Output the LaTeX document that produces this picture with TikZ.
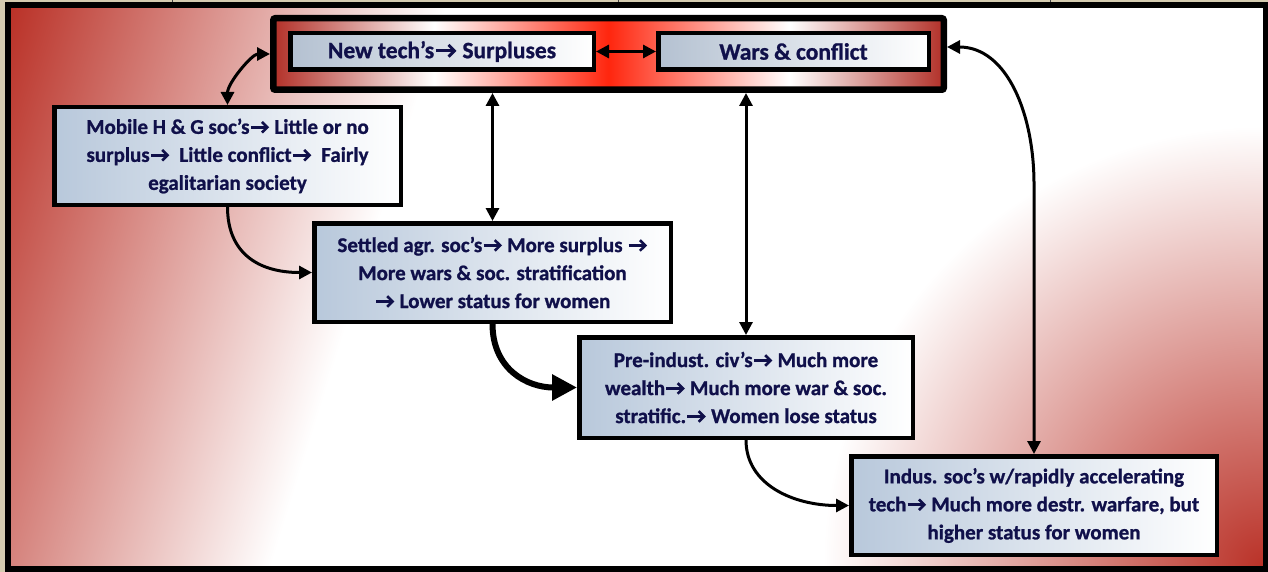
\documentclass[tikz,border=0pt]{standalone}
\usepackage{fontspec}
\setmainfont{Carlito}[BoldFeatures={FakeBold=1}]
\usetikzlibrary{arrows.meta,calc}

\definecolor{frameBeige}{RGB}{212,203,176}
\definecolor{bgRed}{RGB}{186,50,40}
\definecolor{bnEdge}{RGB}{178,48,40}
\definecolor{bnMid}{RGB}{255,38,14}
\definecolor{boxL}{RGB}{184,200,219}
\definecolor{techL}{RGB}{180,193,209}
\definecolor{ink}{RGB}{16,16,74}

% background: red from the left, fading to white
\pgfdeclarehorizontalshading{bgleft}{100bp}{color(0bp)=(bgRed); color(25.7bp)=(bgRed); color(40.5bp)=(white); color(100bp)=(white)}
% title band: dark red edges, white, bright red centre
\pgfdeclarehorizontalshading{bannershade}{100bp}{color(0bp)=(bnEdge); color(25bp)=(bnEdge); color(37bp)=(white); color(50bp)=(bnMid); color(63.5bp)=(white); color(75bp)=(bnEdge); color(100bp)=(bnEdge)}

% bold chevron arrows used inside the texts
\newsavebox\arsmall
\newsavebox\arbig
\newcommand\ra{\usebox\arsmall}
\newcommand\rabig{\usebox\arbig}
% #1 baseline drop, #2 line width, #3 shaft end, #4 head back x, #5 head half height, #6 tip x, #7 box width
\newcommand\makechevron[7]{%
  \begin{pgfpicture}
    \pgfsetbaseline{#1}%
    \pgfsetstrokecolor{ink}%
    \pgfsetlinewidth{#2}%
    \pgfsetbuttcap
    \pgfpathmoveto{\pgfqpoint{0.5pt}{0pt}}\pgfpathlineto{\pgfqpoint{#3}{0pt}}%
    \pgfusepath{stroke}%
    \pgfsetmiterjoin
    \pgfpathmoveto{\pgfqpoint{#4}{#5}}\pgfpathlineto{\pgfqpoint{#6}{0pt}}%
    \pgfpathlineto{\pgfqpoint{#4}{-#5}}%
    \pgfusepath{stroke}%
    \pgfpathrectangle{\pgfqpoint{0pt}{-6pt}}{\pgfqpoint{#7}{12pt}}%
    \pgfusepath{use as bounding box}%
  \end{pgfpicture}}

\begin{document}
\sbox\arsmall{\makechevron{-6.6pt}{2.6pt}{16.3pt}{11.7pt}{5.3pt}{17.1pt}{19.4pt}}
\sbox\arbig{\makechevron{-7.4pt}{2.9pt}{18.5pt}{13.4pt}{5.9pt}{19.3pt}{22pt}}
\begin{tikzpicture}[x=1pt,y=-1pt,
  >={Triangle[length=13pt,width=13pt]},
  stagebox/.style={draw=black, line width=4.5pt, left color=boxL, right color=white,
    inner sep=0pt, align=center, text=ink,
    font=\bfseries\fontsize{21}{28}\selectfont},
  titlebox/.style={draw=black, line width=4.5pt, left color=techL, right color=white,
    inner sep=0pt, align=center, text=ink,
    font=\bfseries\fontsize{23.5}{28}\selectfont},
  link/.style={->, line width=3pt},
  dlink/.style={<->, line width=3pt},
  biglink/.style={-{Triangle[length=25pt,width=25pt]}, line width=6pt}]

\useasboundingbox (0,0) rectangle (1268,572);

% page background and frame
\fill[frameBeige] (0,0) rectangle (1268,572);
\begin{scope}
  \clip (11,8) rectangle (1263,566);
  \fill[white] (11,8) rectangle (1263,566);
  \shade[shading=bgleft, shading angle=-17.4] (637,287) circle (700);
  \shade[inner color=bgRed, outer color=white] (1263,566) circle (440);
\end{scope}
\draw[line width=6pt] (8,5) rectangle (1265.5,569);
\foreach \tx in {172,618,1050} \draw[line width=1pt, black!75] (\tx,0) -- (\tx,2.5);

% title band
\node[draw=black, line width=6.5pt, shade, shading=bannershade, rounded corners=2pt,
  minimum width=670.5pt, minimum height=71.5pt, inner sep=0pt] (banner) at (608.5,54) {};
\node[titlebox, minimum width=303.5pt, minimum height=36.5pt] (tech) at (442,51.5)
  {New tech’s\rabig\ Surpluses};
\node[titlebox, minimum width=270.5pt, minimum height=36.5pt] (wars) at (793.5,51.5)
  {Wars \& conflict};

% stages
\node[stagebox, minimum width=346.5pt, minimum height=97.5pt] (mobile) at (227.5,156)
  {Mobile H \& G soc’s\ra\ Little or no\\surplus\ra~~Little conflict\ra~~Fairly\\egalitarian society};
\node[stagebox, minimum width=356.5pt, minimum height=98.5pt] (settled) at (492.5,272.5)
  {Settled agr. soc’s\ra\ More surplus \ra\\More wars \& soc. stratification\\\ra\ Lower status for women};
\node[stagebox, minimum width=333.5pt, minimum height=100.5pt] (pre) at (746,387.5)
  {Pre-indust. civ’s\ra\ Much more\\wealth\ra\ Much more war \& soc.\\stratific.\ra\ Women lose status};
\node[stagebox, minimum width=365.5pt, minimum height=98.5pt] (indus) at (1034,505.5)
  {Indus. soc’s w/rapidly accelerating\\tech\ra\ Much more destr. warfare, but\\higher status for women};

% connectors
\draw[dlink] (tech.east) -- (wars.west);
\draw[dlink] (mobile.north) .. controls +(0,-22) and +(-18,0) .. (banner.west);
\draw[dlink] (banner.south -| settled.north) -- (settled.north);
\draw[dlink] (banner.south -| pre.north) -- (pre.north);
\draw[dlink] ([yshift=7pt]banner.east) .. controls +(60,0) and +(0,-70) .. ($(indus.north)+(0,-270)$) -- (indus.north);
\draw[link] (mobile.south) .. controls +(0,45) and +(-55,0) .. (settled.west);
\draw[biglink] (settled.south) .. controls +(0,45) and +(-50,0) .. (pre.west);
\draw[link] (pre.south) .. controls +(0,45) and +(-55,0) .. (indus.west);
\end{tikzpicture}
\end{document}
